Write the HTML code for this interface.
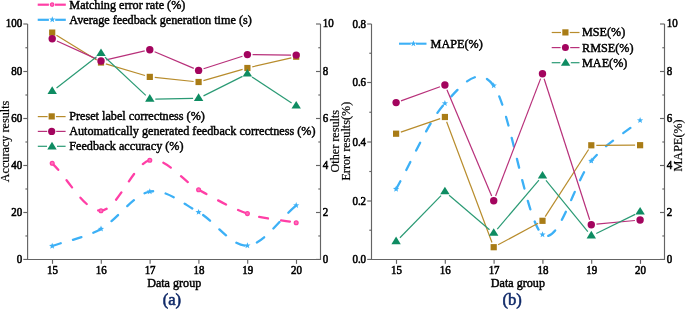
<!DOCTYPE html><html><head><meta charset="utf-8"><style>html,body{margin:0;padding:0;background:#fff;width:685px;height:309px;overflow:hidden}svg{display:block;will-change:transform}text{font-family:"Liberation Serif", serif;stroke:currentColor;stroke-width:0.45px;paint-order:stroke}.tk{letter-spacing:-0.25px}</style></head><body>
<svg width="685" height="309" viewBox="0 0 685 309">
<path d="M27.6,24 V259.45 H320.5 V24" fill="none" stroke="#646464" stroke-width="1.15"/>
<line x1="52.5" y1="259.45" x2="52.5" y2="263.85" stroke="#646464" stroke-width="1.15"/>
<text transform="translate(52.5,273.75) scale(0.87,1)" x="0" y="0" font-size="12.6" text-anchor="middle" fill="#000" style="color:#000;stroke-width:0.6px">15</text>
<line x1="101.3" y1="259.45" x2="101.3" y2="263.85" stroke="#646464" stroke-width="1.15"/>
<text transform="translate(101.3,273.75) scale(0.87,1)" x="0" y="0" font-size="12.6" text-anchor="middle" fill="#000" style="color:#000;stroke-width:0.6px">16</text>
<line x1="150.1" y1="259.45" x2="150.1" y2="263.85" stroke="#646464" stroke-width="1.15"/>
<text transform="translate(150.1,273.75) scale(0.87,1)" x="0" y="0" font-size="12.6" text-anchor="middle" fill="#000" style="color:#000;stroke-width:0.6px">17</text>
<line x1="198.9" y1="259.45" x2="198.9" y2="263.85" stroke="#646464" stroke-width="1.15"/>
<text transform="translate(198.9,273.75) scale(0.87,1)" x="0" y="0" font-size="12.6" text-anchor="middle" fill="#000" style="color:#000;stroke-width:0.6px">18</text>
<line x1="247.7" y1="259.45" x2="247.7" y2="263.85" stroke="#646464" stroke-width="1.15"/>
<text transform="translate(247.7,273.75) scale(0.87,1)" x="0" y="0" font-size="12.6" text-anchor="middle" fill="#000" style="color:#000;stroke-width:0.6px">19</text>
<line x1="296.5" y1="259.45" x2="296.5" y2="263.85" stroke="#646464" stroke-width="1.15"/>
<text transform="translate(296.5,273.75) scale(0.87,1)" x="0" y="0" font-size="12.6" text-anchor="middle" fill="#000" style="color:#000;stroke-width:0.6px">20</text>
<line x1="23.3" y1="259.45" x2="27.6" y2="259.45" stroke="#646464" stroke-width="1.15"/>
<text transform="translate(22.2,262.55) scale(0.87,1)" x="0" y="0" font-size="12.6" text-anchor="end" fill="#000" style="color:#000;stroke-width:0.6px">0</text>
<line x1="25.4" y1="235.97" x2="27.6" y2="235.97" stroke="#646464" stroke-width="1.15"/>
<line x1="23.3" y1="212.5" x2="27.6" y2="212.5" stroke="#646464" stroke-width="1.15"/>
<text transform="translate(22.2,215.6) scale(0.87,1)" x="0" y="0" font-size="12.6" text-anchor="end" fill="#000" style="color:#000;stroke-width:0.6px">20</text>
<line x1="25.4" y1="189" x2="27.6" y2="189" stroke="#646464" stroke-width="1.15"/>
<line x1="23.3" y1="165.5" x2="27.6" y2="165.5" stroke="#646464" stroke-width="1.15"/>
<text transform="translate(22.2,168.6) scale(0.87,1)" x="0" y="0" font-size="12.6" text-anchor="end" fill="#000" style="color:#000;stroke-width:0.6px">40</text>
<line x1="25.4" y1="142" x2="27.6" y2="142" stroke="#646464" stroke-width="1.15"/>
<line x1="23.3" y1="118.5" x2="27.6" y2="118.5" stroke="#646464" stroke-width="1.15"/>
<text transform="translate(22.2,121.6) scale(0.87,1)" x="0" y="0" font-size="12.6" text-anchor="end" fill="#000" style="color:#000;stroke-width:0.6px">60</text>
<line x1="25.4" y1="95" x2="27.6" y2="95" stroke="#646464" stroke-width="1.15"/>
<line x1="23.3" y1="71.5" x2="27.6" y2="71.5" stroke="#646464" stroke-width="1.15"/>
<text transform="translate(22.2,74.6) scale(0.87,1)" x="0" y="0" font-size="12.6" text-anchor="end" fill="#000" style="color:#000;stroke-width:0.6px">80</text>
<line x1="25.4" y1="47.75" x2="27.6" y2="47.75" stroke="#646464" stroke-width="1.15"/>
<line x1="23.3" y1="24" x2="27.6" y2="24" stroke="#646464" stroke-width="1.15"/>
<text transform="translate(22.2,27.1) scale(0.87,1)" x="0" y="0" font-size="12.6" text-anchor="end" fill="#000" style="color:#000;stroke-width:0.6px">100</text>
<line x1="316" y1="259.45" x2="320.5" y2="259.45" stroke="#646464" stroke-width="1.15"/>
<text transform="translate(322.8,262.65) scale(0.87,1)" x="0" y="0" font-size="12.6" text-anchor="start" fill="#000" style="color:#000;stroke-width:0.6px">0</text>
<line x1="318.3" y1="235.97" x2="320.5" y2="235.97" stroke="#646464" stroke-width="1.15"/>
<line x1="316" y1="212.5" x2="320.5" y2="212.5" stroke="#646464" stroke-width="1.15"/>
<text transform="translate(322.8,215.7) scale(0.87,1)" x="0" y="0" font-size="12.6" text-anchor="start" fill="#000" style="color:#000;stroke-width:0.6px">2</text>
<line x1="318.3" y1="189" x2="320.5" y2="189" stroke="#646464" stroke-width="1.15"/>
<line x1="316" y1="165.5" x2="320.5" y2="165.5" stroke="#646464" stroke-width="1.15"/>
<text transform="translate(322.8,168.7) scale(0.87,1)" x="0" y="0" font-size="12.6" text-anchor="start" fill="#000" style="color:#000;stroke-width:0.6px">4</text>
<line x1="318.3" y1="142" x2="320.5" y2="142" stroke="#646464" stroke-width="1.15"/>
<line x1="316" y1="118.5" x2="320.5" y2="118.5" stroke="#646464" stroke-width="1.15"/>
<text transform="translate(322.8,121.7) scale(0.87,1)" x="0" y="0" font-size="12.6" text-anchor="start" fill="#000" style="color:#000;stroke-width:0.6px">6</text>
<line x1="318.3" y1="95" x2="320.5" y2="95" stroke="#646464" stroke-width="1.15"/>
<line x1="316" y1="71.5" x2="320.5" y2="71.5" stroke="#646464" stroke-width="1.15"/>
<text transform="translate(322.8,74.7) scale(0.87,1)" x="0" y="0" font-size="12.6" text-anchor="start" fill="#000" style="color:#000;stroke-width:0.6px">8</text>
<line x1="318.3" y1="47.75" x2="320.5" y2="47.75" stroke="#646464" stroke-width="1.15"/>
<line x1="316" y1="24" x2="320.5" y2="24" stroke="#646464" stroke-width="1.15"/>
<text transform="translate(322.8,27.2) scale(0.87,1)" x="0" y="0" font-size="12.6" text-anchor="start" fill="#000" style="color:#000;stroke-width:0.6px">10</text>
<path d="M52.2,246 C68.47,240.3 84.73,237.97 101,228.9 C117.27,219.83 133.53,194.38 149.8,191.6 C166.07,188.82 182.33,203.2 198.6,212.2 C214.87,221.2 231.13,246.73 247.4,245.6 C263.67,244.47 279.93,218.8 296.2,205.4" fill="none" stroke="#3cb0f6" stroke-width="2.3" stroke-dasharray="8.9 12.75" stroke-linecap="round"/>
<polygon points="52.2,242.7 53.02,244.87 55.34,244.98 53.53,246.43 54.14,248.67 52.2,247.4 50.26,248.67 50.87,246.43 49.06,244.98 51.38,244.87" fill="#3cb0f6"/>
<polygon points="101,225.6 101.82,227.77 104.14,227.88 102.33,229.33 102.94,231.57 101,230.3 99.06,231.57 99.67,229.33 97.86,227.88 100.18,227.77" fill="#3cb0f6"/>
<polygon points="149.8,188.3 150.62,190.47 152.94,190.58 151.13,192.03 151.74,194.27 149.8,193 147.86,194.27 148.47,192.03 146.66,190.58 148.98,190.47" fill="#3cb0f6"/>
<polygon points="198.6,208.9 199.42,211.07 201.74,211.18 199.93,212.63 200.54,214.87 198.6,213.6 196.66,214.87 197.27,212.63 195.46,211.18 197.78,211.07" fill="#3cb0f6"/>
<polygon points="247.4,242.3 248.22,244.47 250.54,244.58 248.73,246.03 249.34,248.27 247.4,247 245.46,248.27 246.07,246.03 244.26,244.58 246.58,244.47" fill="#3cb0f6"/>
<polygon points="296.2,202.1 297.02,204.27 299.34,204.38 297.53,205.83 298.14,208.07 296.2,206.8 294.26,208.07 294.87,205.83 293.06,204.38 295.38,204.27" fill="#3cb0f6"/>
<path d="M52.2,163.3 C68.47,179.1 84.73,211.22 101,210.7 C117.27,210.18 133.53,163.7 149.8,160.2 C166.07,156.7 182.33,180.8 198.6,189.7 C214.87,198.6 231.13,208.1 247.4,213.6 C263.67,219.1 279.93,219.67 296.2,222.7" fill="none" stroke="#ff3fa6" stroke-width="2.3" stroke-dasharray="8.9 13.3" stroke-linecap="round"/>
<circle cx="52.2" cy="163.3" r="1.9" fill="#ff70bb" stroke="#ff3fa6" stroke-width="1.3"/>
<circle cx="101" cy="210.7" r="1.9" fill="#ff70bb" stroke="#ff3fa6" stroke-width="1.3"/>
<circle cx="149.8" cy="160.2" r="1.9" fill="#ff70bb" stroke="#ff3fa6" stroke-width="1.3"/>
<circle cx="198.6" cy="189.7" r="1.9" fill="#ff70bb" stroke="#ff3fa6" stroke-width="1.3"/>
<circle cx="247.4" cy="213.6" r="1.9" fill="#ff70bb" stroke="#ff3fa6" stroke-width="1.3"/>
<circle cx="296.2" cy="222.7" r="1.9" fill="#ff70bb" stroke="#ff3fa6" stroke-width="1.3"/>
<line x1="56.46" y1="35.21" x2="96.74" y2="59.89" stroke="#b88c2c" stroke-width="1.2"/>
<line x1="105.8" y1="63.92" x2="145" y2="75.48" stroke="#b88c2c" stroke-width="1.2"/>
<line x1="154.77" y1="77.42" x2="193.63" y2="81.48" stroke="#b88c2c" stroke-width="1.2"/>
<line x1="203.41" y1="80.62" x2="242.59" y2="69.38" stroke="#b88c2c" stroke-width="1.2"/>
<line x1="252.27" y1="66.87" x2="291.33" y2="57.83" stroke="#b88c2c" stroke-width="1.2"/>
<rect x="49.1" y="29.5" width="6.2" height="6.2" fill="#a97c16"/>
<rect x="97.9" y="59.4" width="6.2" height="6.2" fill="#a97c16"/>
<rect x="146.7" y="73.8" width="6.2" height="6.2" fill="#a97c16"/>
<rect x="195.5" y="78.9" width="6.2" height="6.2" fill="#a97c16"/>
<rect x="244.3" y="64.9" width="6.2" height="6.2" fill="#a97c16"/>
<rect x="293.1" y="53.6" width="6.2" height="6.2" fill="#a97c16"/>
<line x1="56.93" y1="40.95" x2="96.27" y2="58.85" stroke="#b8307a" stroke-width="1.2"/>
<line x1="106.07" y1="59.83" x2="144.73" y2="50.87" stroke="#b8307a" stroke-width="1.2"/>
<line x1="154.59" y1="51.73" x2="193.81" y2="68.37" stroke="#b8307a" stroke-width="1.2"/>
<line x1="203.55" y1="68.8" x2="242.45" y2="56.2" stroke="#b8307a" stroke-width="1.2"/>
<line x1="252.6" y1="54.65" x2="291" y2="55.05" stroke="#b8307a" stroke-width="1.2"/>
<circle cx="52.2" cy="38.8" r="3.7" fill="#a3045e"/>
<circle cx="101" cy="61" r="3.7" fill="#a3045e"/>
<circle cx="149.8" cy="49.7" r="3.7" fill="#a3045e"/>
<circle cx="198.6" cy="70.4" r="3.7" fill="#a3045e"/>
<circle cx="247.4" cy="54.6" r="3.7" fill="#a3045e"/>
<circle cx="296.2" cy="55.1" r="3.7" fill="#a3045e"/>
<line x1="56.54" y1="87.98" x2="96.66" y2="56.82" stroke="#2a9a74" stroke-width="1.2"/>
<line x1="105.01" y1="57.21" x2="145.79" y2="95.39" stroke="#2a9a74" stroke-width="1.2"/>
<line x1="155.3" y1="99.06" x2="193.1" y2="98.44" stroke="#2a9a74" stroke-width="1.2"/>
<line x1="203.52" y1="95.89" x2="242.48" y2="76.41" stroke="#2a9a74" stroke-width="1.2"/>
<line x1="252" y1="76.97" x2="291.6" y2="102.93" stroke="#2a9a74" stroke-width="1.2"/>
<polygon points="52.2,86.28 56.9,93.88 47.5,93.88" fill="#0e8c62"/>
<polygon points="101,48.38 105.7,55.98 96.3,55.98" fill="#0e8c62"/>
<polygon points="149.8,94.08 154.5,101.68 145.1,101.68" fill="#0e8c62"/>
<polygon points="198.6,93.28 203.3,100.88 193.9,100.88" fill="#0e8c62"/>
<polygon points="247.4,68.88 252.1,76.48 242.7,76.48" fill="#0e8c62"/>
<polygon points="296.2,100.88 300.9,108.48 291.5,108.48" fill="#0e8c62"/>
<line x1="37.7" y1="4.7" x2="48.9" y2="4.7" stroke="#ff3fa6" stroke-width="2.2"/>
<line x1="54.9" y1="4.7" x2="65.8" y2="4.7" stroke="#ff3fa6" stroke-width="2.2"/>
<circle cx="52.1" cy="4.6" r="1.75" fill="#ff70bb" stroke="#ff3fa6" stroke-width="1.3"/>
<text x="69.3" y="8.5" font-size="12.2" text-anchor="start" fill="#000" style="color:#000" >Matching error rate (%)</text>
<line x1="37.7" y1="19.8" x2="48.9" y2="19.8" stroke="#3cb0f6" stroke-width="2.2"/>
<line x1="55.2" y1="19.8" x2="65.8" y2="19.8" stroke="#3cb0f6" stroke-width="2.2"/>
<polygon points="52.3,16.3 53.12,18.47 55.44,18.58 53.63,20.03 54.24,22.27 52.3,21 50.36,22.27 50.97,20.03 49.16,18.58 51.48,18.47" fill="#3cb0f6"/>
<text x="69.3" y="23.6" font-size="12.2" text-anchor="start" fill="#000" style="color:#000" >Average feedback generation time (s)</text>
<line x1="37.8" y1="116.6" x2="47.6" y2="116.6" stroke="#b88c2c" stroke-width="1.2"/>
<line x1="55.9" y1="116.6" x2="65.6" y2="116.6" stroke="#b88c2c" stroke-width="1.2"/>
<rect x="48.6" y="113.3" width="6.2" height="6.2" fill="#a97c16"/>
<text x="69.2" y="120.4" font-size="12.2" text-anchor="start" fill="#000" style="color:#000" >Preset label correctness (%)</text>
<line x1="37.8" y1="131.4" x2="47.2" y2="131.4" stroke="#b8307a" stroke-width="1.2"/>
<line x1="56.2" y1="131.4" x2="65.6" y2="131.4" stroke="#b8307a" stroke-width="1.2"/>
<circle cx="51.7" cy="131.4" r="3.6" fill="#a3045e"/>
<text x="69.2" y="135.4" font-size="12.2" text-anchor="start" fill="#000" style="color:#000" >Automatically generated feedback correctness (%)</text>
<line x1="37.8" y1="146.3" x2="47" y2="146.3" stroke="#2a9a74" stroke-width="1.2"/>
<line x1="57" y1="146.3" x2="65.6" y2="146.3" stroke="#2a9a74" stroke-width="1.2"/>
<polygon points="52,141.8 56.7,149.4 47.3,149.4" fill="#0e8c62"/>
<text x="69.2" y="150.3" font-size="12.2" text-anchor="start" fill="#000" style="color:#000" >Feedback accuracy (%)</text>
<text transform="translate(9.2,141.5) rotate(-90)" x="0" y="0" font-size="12.2" text-anchor="middle" fill="#000" style="color:#000;stroke-width:0.2px">Accuracy results</text>
<text x="174.2" y="286.5" font-size="12.1" text-anchor="middle" fill="#000" style="color:#000" >Data group</text>
<text x="171.9" y="304.9" font-size="16.6" text-anchor="middle" fill="#0f2968"  style="color:#0f2968;stroke-width:0.55px">(a)</text>
<path d="M371.5,24 V259.45 H664.5 V24" fill="none" stroke="#646464" stroke-width="1.15"/>
<line x1="396.5" y1="259.45" x2="396.5" y2="263.85" stroke="#646464" stroke-width="1.15"/>
<text transform="translate(396.5,273.75) scale(0.87,1)" x="0" y="0" font-size="12.6" text-anchor="middle" fill="#000" style="color:#000;stroke-width:0.6px">15</text>
<line x1="445.3" y1="259.45" x2="445.3" y2="263.85" stroke="#646464" stroke-width="1.15"/>
<text transform="translate(445.3,273.75) scale(0.87,1)" x="0" y="0" font-size="12.6" text-anchor="middle" fill="#000" style="color:#000;stroke-width:0.6px">16</text>
<line x1="494.1" y1="259.45" x2="494.1" y2="263.85" stroke="#646464" stroke-width="1.15"/>
<text transform="translate(494.1,273.75) scale(0.87,1)" x="0" y="0" font-size="12.6" text-anchor="middle" fill="#000" style="color:#000;stroke-width:0.6px">17</text>
<line x1="542.9" y1="259.45" x2="542.9" y2="263.85" stroke="#646464" stroke-width="1.15"/>
<text transform="translate(542.9,273.75) scale(0.87,1)" x="0" y="0" font-size="12.6" text-anchor="middle" fill="#000" style="color:#000;stroke-width:0.6px">18</text>
<line x1="591.7" y1="259.45" x2="591.7" y2="263.85" stroke="#646464" stroke-width="1.15"/>
<text transform="translate(591.7,273.75) scale(0.87,1)" x="0" y="0" font-size="12.6" text-anchor="middle" fill="#000" style="color:#000;stroke-width:0.6px">19</text>
<line x1="640.5" y1="259.45" x2="640.5" y2="263.85" stroke="#646464" stroke-width="1.15"/>
<text transform="translate(640.5,273.75) scale(0.87,1)" x="0" y="0" font-size="12.6" text-anchor="middle" fill="#000" style="color:#000;stroke-width:0.6px">20</text>
<line x1="367.2" y1="259.45" x2="371.5" y2="259.45" stroke="#646464" stroke-width="1.15"/>
<text transform="translate(366.1,263.15) scale(0.87,1)" x="0" y="0" font-size="12.6" text-anchor="end" fill="#000" style="color:#000;stroke-width:0.6px">0.0</text>
<line x1="369.3" y1="230.22" x2="371.5" y2="230.22" stroke="#646464" stroke-width="1.15"/>
<line x1="367.2" y1="201" x2="371.5" y2="201" stroke="#646464" stroke-width="1.15"/>
<text transform="translate(366.1,204.7) scale(0.87,1)" x="0" y="0" font-size="12.6" text-anchor="end" fill="#000" style="color:#000;stroke-width:0.6px">0.2</text>
<line x1="369.3" y1="171.5" x2="371.5" y2="171.5" stroke="#646464" stroke-width="1.15"/>
<line x1="367.2" y1="142" x2="371.5" y2="142" stroke="#646464" stroke-width="1.15"/>
<text transform="translate(366.1,145.7) scale(0.87,1)" x="0" y="0" font-size="12.6" text-anchor="end" fill="#000" style="color:#000;stroke-width:0.6px">0.4</text>
<line x1="369.3" y1="112.25" x2="371.5" y2="112.25" stroke="#646464" stroke-width="1.15"/>
<line x1="367.2" y1="82.5" x2="371.5" y2="82.5" stroke="#646464" stroke-width="1.15"/>
<text transform="translate(366.1,86.2) scale(0.87,1)" x="0" y="0" font-size="12.6" text-anchor="end" fill="#000" style="color:#000;stroke-width:0.6px">0.6</text>
<line x1="369.3" y1="53.25" x2="371.5" y2="53.25" stroke="#646464" stroke-width="1.15"/>
<line x1="367.2" y1="24" x2="371.5" y2="24" stroke="#646464" stroke-width="1.15"/>
<text transform="translate(366.1,27.7) scale(0.87,1)" x="0" y="0" font-size="12.6" text-anchor="end" fill="#000" style="color:#000;stroke-width:0.6px">0.8</text>
<line x1="660" y1="259.45" x2="664.5" y2="259.45" stroke="#646464" stroke-width="1.15"/>
<text transform="translate(666.8,262.65) scale(0.87,1)" x="0" y="0" font-size="12.6" text-anchor="start" fill="#000" style="color:#000;stroke-width:0.6px">0</text>
<line x1="662.3" y1="235.97" x2="664.5" y2="235.97" stroke="#646464" stroke-width="1.15"/>
<line x1="660" y1="212.5" x2="664.5" y2="212.5" stroke="#646464" stroke-width="1.15"/>
<text transform="translate(666.8,215.7) scale(0.87,1)" x="0" y="0" font-size="12.6" text-anchor="start" fill="#000" style="color:#000;stroke-width:0.6px">2</text>
<line x1="662.3" y1="189" x2="664.5" y2="189" stroke="#646464" stroke-width="1.15"/>
<line x1="660" y1="165.5" x2="664.5" y2="165.5" stroke="#646464" stroke-width="1.15"/>
<text transform="translate(666.8,168.7) scale(0.87,1)" x="0" y="0" font-size="12.6" text-anchor="start" fill="#000" style="color:#000;stroke-width:0.6px">4</text>
<line x1="662.3" y1="142" x2="664.5" y2="142" stroke="#646464" stroke-width="1.15"/>
<line x1="660" y1="118.5" x2="664.5" y2="118.5" stroke="#646464" stroke-width="1.15"/>
<text transform="translate(666.8,121.7) scale(0.87,1)" x="0" y="0" font-size="12.6" text-anchor="start" fill="#000" style="color:#000;stroke-width:0.6px">6</text>
<line x1="662.3" y1="95" x2="664.5" y2="95" stroke="#646464" stroke-width="1.15"/>
<line x1="660" y1="71.5" x2="664.5" y2="71.5" stroke="#646464" stroke-width="1.15"/>
<text transform="translate(666.8,74.7) scale(0.87,1)" x="0" y="0" font-size="12.6" text-anchor="start" fill="#000" style="color:#000;stroke-width:0.6px">8</text>
<line x1="662.3" y1="47.75" x2="664.5" y2="47.75" stroke="#646464" stroke-width="1.15"/>
<line x1="660" y1="24" x2="664.5" y2="24" stroke="#646464" stroke-width="1.15"/>
<text transform="translate(666.8,27.2) scale(0.87,1)" x="0" y="0" font-size="12.6" text-anchor="start" fill="#000" style="color:#000;stroke-width:0.6px">10</text>
<path d="M396.1,189 C412.37,160.47 428.63,120.63 444.9,103.4 C461.17,86.17 477.43,63.73 493.7,85.6 C509.97,107.47 526.23,222.05 542.5,234.6 C558.77,247.15 575.03,179.93 591.3,160.9 C607.57,141.87 623.83,133.9 640.1,120.4" fill="none" stroke="#3cb0f6" stroke-width="2.3" stroke-dasharray="8.9 12.75" stroke-linecap="round"/>
<polygon points="396.1,185.7 396.92,187.87 399.24,187.98 397.43,189.43 398.04,191.67 396.1,190.4 394.16,191.67 394.77,189.43 392.96,187.98 395.28,187.87" fill="#3cb0f6"/>
<polygon points="444.9,100.1 445.72,102.27 448.04,102.38 446.23,103.83 446.84,106.07 444.9,104.8 442.96,106.07 443.57,103.83 441.76,102.38 444.08,102.27" fill="#3cb0f6"/>
<polygon points="493.7,82.3 494.52,84.47 496.84,84.58 495.03,86.03 495.64,88.27 493.7,87 491.76,88.27 492.37,86.03 490.56,84.58 492.88,84.47" fill="#3cb0f6"/>
<polygon points="542.5,231.3 543.32,233.47 545.64,233.58 543.83,235.03 544.44,237.27 542.5,236 540.56,237.27 541.17,235.03 539.36,233.58 541.68,233.47" fill="#3cb0f6"/>
<polygon points="591.3,157.6 592.12,159.77 594.44,159.88 592.63,161.33 593.24,163.57 591.3,162.3 589.36,163.57 589.97,161.33 588.16,159.88 590.48,159.77" fill="#3cb0f6"/>
<polygon points="640.1,117.1 640.92,119.27 643.24,119.38 641.43,120.83 642.04,123.07 640.1,121.8 638.16,123.07 638.77,120.83 636.96,119.38 639.28,119.27" fill="#3cb0f6"/>
<line x1="400.83" y1="132.08" x2="440.17" y2="118.62" stroke="#b88c2c" stroke-width="1.2"/>
<line x1="446.65" y1="121.68" x2="491.95" y2="242.52" stroke="#b88c2c" stroke-width="1.2"/>
<line x1="498.1" y1="244.82" x2="538.1" y2="223.18" stroke="#b88c2c" stroke-width="1.2"/>
<line x1="545.21" y1="216.6" x2="588.59" y2="149.5" stroke="#b88c2c" stroke-width="1.2"/>
<line x1="596.3" y1="145.29" x2="635.1" y2="145.21" stroke="#b88c2c" stroke-width="1.2"/>
<rect x="393" y="130.6" width="6.2" height="6.2" fill="#a97c16"/>
<rect x="441.8" y="113.9" width="6.2" height="6.2" fill="#a97c16"/>
<rect x="490.6" y="244.1" width="6.2" height="6.2" fill="#a97c16"/>
<rect x="539.4" y="217.7" width="6.2" height="6.2" fill="#a97c16"/>
<rect x="588.2" y="142.2" width="6.2" height="6.2" fill="#a97c16"/>
<rect x="637" y="142.1" width="6.2" height="6.2" fill="#a97c16"/>
<line x1="400.99" y1="100.84" x2="440.01" y2="86.76" stroke="#b8307a" stroke-width="1.2"/>
<line x1="446.92" y1="89.79" x2="491.68" y2="196.01" stroke="#b8307a" stroke-width="1.2"/>
<line x1="495.57" y1="195.95" x2="540.63" y2="78.65" stroke="#b8307a" stroke-width="1.2"/>
<line x1="544.1" y1="78.75" x2="589.7" y2="219.75" stroke="#b8307a" stroke-width="1.2"/>
<line x1="596.48" y1="224.2" x2="634.92" y2="220.5" stroke="#b8307a" stroke-width="1.2"/>
<circle cx="396.1" cy="102.6" r="3.7" fill="#a3045e"/>
<circle cx="444.9" cy="85" r="3.7" fill="#a3045e"/>
<circle cx="493.7" cy="200.8" r="3.7" fill="#a3045e"/>
<circle cx="542.5" cy="73.8" r="3.7" fill="#a3045e"/>
<circle cx="591.3" cy="224.7" r="3.7" fill="#a3045e"/>
<circle cx="640.1" cy="220" r="3.7" fill="#a3045e"/>
<line x1="399.95" y1="237.72" x2="441.05" y2="195.68" stroke="#2a9a74" stroke-width="1.2"/>
<line x1="449.09" y1="195.31" x2="489.51" y2="229.69" stroke="#2a9a74" stroke-width="1.2"/>
<line x1="497.27" y1="229.07" x2="538.93" y2="180.23" stroke="#2a9a74" stroke-width="1.2"/>
<line x1="545.98" y1="180.31" x2="587.82" y2="231.59" stroke="#2a9a74" stroke-width="1.2"/>
<line x1="596.24" y1="233.43" x2="635.16" y2="214.37" stroke="#2a9a74" stroke-width="1.2"/>
<polygon points="396.1,236.58 400.8,244.18 391.4,244.18" fill="#0e8c62"/>
<polygon points="444.9,186.68 449.6,194.28 440.2,194.28" fill="#0e8c62"/>
<polygon points="493.7,228.18 498.4,235.78 489,235.78" fill="#0e8c62"/>
<polygon points="542.5,170.98 547.2,178.58 537.8,178.58" fill="#0e8c62"/>
<polygon points="591.3,230.78 596,238.38 586.6,238.38" fill="#0e8c62"/>
<polygon points="640.1,206.88 644.8,214.48 635.4,214.48" fill="#0e8c62"/>
<line x1="399" y1="43.7" x2="410.8" y2="43.7" stroke="#3cb0f6" stroke-width="2.1"/>
<line x1="416" y1="43.7" x2="426.5" y2="43.7" stroke="#3cb0f6" stroke-width="2.1"/>
<polygon points="413.4,40.4 414.22,42.57 416.54,42.68 414.73,44.13 415.34,46.37 413.4,45.1 411.46,46.37 412.07,44.13 410.26,42.68 412.58,42.57" fill="#3cb0f6"/>
<text x="430.6" y="48.4" font-size="12.2" text-anchor="start" fill="#000" style="color:#000" >MAPE(%)</text>
<line x1="551.7" y1="32.5" x2="561" y2="32.5" stroke="#b88c2c" stroke-width="1.2"/>
<line x1="569.8" y1="32.5" x2="579.5" y2="32.5" stroke="#b88c2c" stroke-width="1.2"/>
<rect x="562.3" y="29.3" width="6.2" height="6.2" fill="#a97c16"/>
<text x="582" y="36.4" font-size="12.2" text-anchor="start" fill="#000" style="color:#000" >MSE(%)</text>
<line x1="551.7" y1="47.6" x2="560.6" y2="47.6" stroke="#b8307a" stroke-width="1.2"/>
<line x1="570.2" y1="47.6" x2="579.5" y2="47.6" stroke="#b8307a" stroke-width="1.2"/>
<circle cx="565.4" cy="47.6" r="3.5" fill="#a3045e"/>
<text x="582" y="51.5" font-size="12.2" text-anchor="start" fill="#000" style="color:#000" >RMSE(%)</text>
<line x1="551.7" y1="62.7" x2="560.4" y2="62.7" stroke="#2a9a74" stroke-width="1.2"/>
<line x1="570.8" y1="62.7" x2="579.5" y2="62.7" stroke="#2a9a74" stroke-width="1.2"/>
<polygon points="565.6,58.2 570.3,65.8 560.9,65.8" fill="#0e8c62"/>
<text x="582" y="66.6" font-size="12.2" text-anchor="start" fill="#000" style="color:#000" >MAE(%)</text>
<text transform="translate(338.6,141.2) rotate(-90)" x="0" y="0" font-size="12.2" text-anchor="middle" fill="#000" style="color:#000;stroke-width:0.2px">Other results</text>
<text transform="translate(350,141.2) rotate(-90)" x="0" y="0" font-size="12.2" text-anchor="middle" fill="#000" style="color:#000;stroke-width:0.2px">Error results(%)</text>
<text transform="translate(682.3,145.4) rotate(-90)" x="0" y="0" font-size="12.2" text-anchor="middle" fill="#000" style="color:#000;stroke-width:0.2px">MAPE(%)</text>
<text x="517.9" y="286.5" font-size="12.1" text-anchor="middle" fill="#000" style="color:#000" >Data group</text>
<text x="512.2" y="304.9" font-size="16.6" text-anchor="middle" fill="#0f2968"  style="color:#0f2968;stroke-width:0.55px">(b)</text>
</svg></body></html>
